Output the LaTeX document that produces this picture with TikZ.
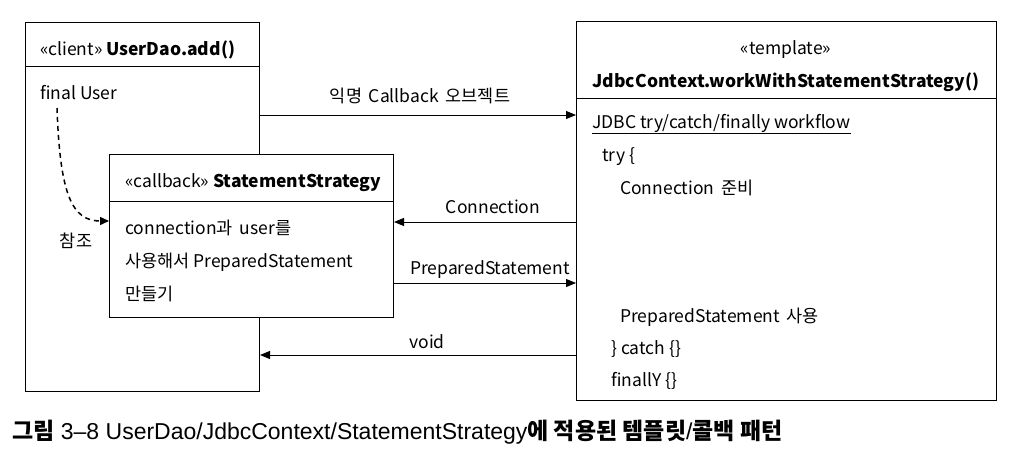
\documentclass[tikz,border=0pt]{standalone}
\usepackage{fontspec}
\setmainfont{Noto Sans CJK KR}
\newfontfamily\capfont{Liberation Sans}
\newcommand{\krcap}[1]{{\rmfamily\bfseries\fontsize{23}{26}\selectfont #1}}
\usetikzlibrary{arrows.meta,positioning,calc}

\tikzset{
  umlbox/.style={draw, line width=1pt, anchor=north west, inner sep=0pt},
  txt/.style={anchor=west, inner sep=0pt, font=\fontsize{17.5}{20}\selectfont},
  lbl/.style={inner sep=0pt, font=\fontsize{17.5}{20}\selectfont},
  msg/.style={line width=1pt, -{Triangle[length=10pt,width=8pt]}},
  refline/.style={line width=1.5pt, dash pattern=on 5pt off 4pt, -{Triangle[length=9pt,width=8pt]}},
}

\begin{document}
\begin{tikzpicture}[x=1pt,y=-1pt]
  \useasboundingbox (0,0) rectangle (1022,460);
  % boxes
  \node[umlbox, minimum width=234pt, minimum height=369pt] (dao) at (25,22) {};
  \draw[line width=1pt] ([yshift=-45pt]dao.north west) -- ([yshift=-45pt]dao.north east);
  \node[umlbox, fill=white, minimum width=284pt, minimum height=163pt] (ss) at (109,154) {};
  \draw[line width=1pt] ([yshift=-47pt]ss.north west) -- ([yshift=-47pt]ss.north east);
  \node[umlbox, minimum width=420pt, minimum height=379pt] (tpl) at (576,21) {};
  \draw[line width=1pt] ([yshift=-77pt]tpl.north west) -- ([yshift=-77pt]tpl.north east);

  % client
  \node[txt] (daotitle) at (40,50) {«client» \textbf{UserDao.add()}};
  \node[txt] (finaluser) at (40,93) {final User};
  \coordinate (refstart) at (57,108);
  \draw[refline] (refstart) .. controls (60,195) and (72,221) .. (ss.west |- 0,221);
  \node[lbl] (ref) at (76,241) {참조};

  % callback
  \node[txt] (sstitle) at (125,183) {«callback» \textbf{StatementStrategy}};
  \node[txt] (ssline1) at (125,228) {connection과 \,user를};
  \node[txt] (ssline2) at (125,262) {사용해서 PreparedStatement};
  \node[txt] (ssline3) at (125,294) {만들기};

  % template
  \node[lbl] (tplstereo) at (786,50) {«template»};
  \node[lbl] (tpltitle) at (786,82) {\textbf{JdbcContext.workWithStatementStrategy()}};
  \node[txt] (workflow) at (592,124) {\underline{JDBC try/catch/finally workflow}};
  \node[txt] (trystart) at (602,157) {try \{};
  \node[txt] (conprep) at (620,188) {Connection \,준비};
  \node[txt] (psuse) at (620,317) {PreparedStatement \,사용};
  \node[txt] (catchpart) at (611,349) {\} catch \{\}};
  \node[txt] (finallypart) at (611,381) {finallY \{\}};

  % messages
  \draw[msg] (dao.east |- 0,115) -- (tpl.west |- 0,115);
  \node[lbl] (cblabel) at (420,96) {익명 \,Callback \,오브젝트};
  \draw[msg] (tpl.west |- 0,222) -- (ss.east |- 0,222);
  \node[lbl] (conlabel) at (493,207) {Connection};
  \draw[msg] (ss.east |- 0,283) -- (tpl.west |- 0,283);
  \node[lbl] (pslabel) at (490,270) {PreparedStatement};
  \draw[msg] (tpl.west |- 0,355) -- (dao.east |- 0,355);
  \node[lbl] (voidlabel) at (427,342) {void};

  % caption
  \node[anchor=west, inner sep=0pt, font=\capfont\fontsize{23}{26}\selectfont] (caption) at (12,432)
    {\krcap{그림} 3–8 UserDao/JdbcContext/StatementStrategy\krcap{에 적용된 템플릿}/\krcap{콜백 패턴}};
\end{tikzpicture}
\end{document}
